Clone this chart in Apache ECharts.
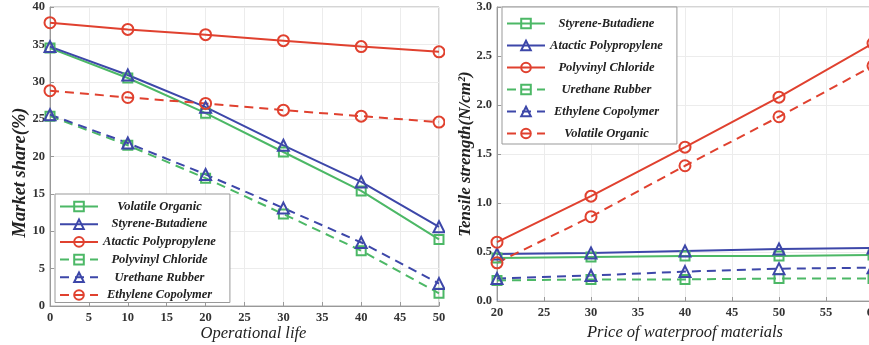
<!DOCTYPE html>
<html>
<head>
<meta charset="utf-8">
<script src="https://cdn.jsdelivr.net/npm/echarts@6/dist/echarts.min.js"></script>
<style>
  body { margin: 0; background: #fff; }
  #left { position: absolute; left: 0; top: 0; width: 445px; height: 345px; }
  #right { position: absolute; left: 445px; top: 0; width: 424px; height: 345px; }
</style>
</head>
<body>
<div id="left"></div>
<div id="right"></div>
<script>
// left panel: market share vs operational life
const lifeX = [0, 10, 20, 30, 40, 50]
const volatileOrganicL = [34.5, 30.5, 25.8, 20.6, 15.4, 8.9]
const styreneButadieneL = [34.7, 30.9, 26.6, 21.5, 16.6, 10.6]
const atacticPolyL = [37.9, 37.0, 36.3, 35.5, 34.7, 34.0]
const polyvinylL = [25.4, 21.5, 17.1, 12.3, 7.4, 1.7]
const urethaneL = [25.6, 21.8, 17.6, 13.1, 8.5, 3.0]
const ethyleneL = [28.8, 27.9, 27.1, 26.2, 25.4, 24.6]

// right panel: tensile strength vs price
const priceX = [20, 30, 40, 50, 60]
const styreneButadieneR = [0.44, 0.45, 0.46, 0.46, 0.47]
const atacticPolyR = [0.48, 0.49, 0.51, 0.53, 0.54]
const polyvinylR = [0.60, 1.07, 1.57, 2.08, 2.63]
const urethaneR = [0.21, 0.22, 0.22, 0.23, 0.23]
const ethyleneR = [0.23, 0.26, 0.30, 0.33, 0.34]
const volatileOrganicR = [0.39, 0.86, 1.38, 1.88, 2.40]

const GREEN = '#4cb866'
const BLUE = '#3d47a9'
const RED = '#e0412f'
const SERIF = '"Liberation Serif", "DejaVu Serif", serif'

function pairs(xs, ys){
    return xs.map((x, i) => [x, ys[i]])
}

function makeSeries(name, xs, ys, color, symbol, dashed){
    return {
        name: name,
        type: 'line',
        data: pairs(xs, ys),
        symbol: symbol,
        symbolSize: symbol === 'rect' ? 9 : 11,
        lineStyle: { color: color, width: 2, type: dashed ? [9, 6] : 'solid' },
        itemStyle: { color: 'rgba(255,255,255,0)', borderColor: color, borderWidth: 2 },
        emphasis: { disabled: true },
        animation: false
    }
}

function legendOpt(names, left, top, gap, pad){
    return {
        orient: 'vertical',
        left: left,
        top: top,
        data: names,
        itemWidth: 38,
        itemHeight: 12,
        itemGap: gap,
        padding: pad,
        backgroundColor: '#fff',
        borderColor: '#999',
        borderWidth: 1,
        borderRadius: 0,
        formatter: n => '{c|' + n + '}',
        textStyle: {
            rich: {
                c: {
                    width: 113,
                    align: 'center',
                    fontFamily: SERIF,
                    fontWeight: 'bold',
                    fontStyle: 'italic',
                    fontSize: 12.5,
                    color: '#222'
                }
            }
        }
    }
}

function axisBase(){
    return {
        nameMoveOverlap: false,
        axisLine: { show: true, lineStyle: { color: '#999', width: 1 } },
        axisTick: { show: true, inside: true, length: 4, lineStyle: { color: '#999' } },
        splitLine: { show: true, lineStyle: { color: '#ececec', width: 1 } },
        axisLabel: { fontFamily: SERIF, fontWeight: 'bold', fontSize: 12.5, color: '#333', margin: 5 },
        nameTextStyle: { fontFamily: SERIF, fontStyle: 'italic', fontSize: 16.5, color: '#222' }
    }
}

let leftChart = echarts.init(document.getElementById('left'))
let leftOption = {
    animation: false,
    grid: { left: 50, right: 6, top: 7, bottom: 39, outerBoundsMode: 'none',
            show: true, borderColor: '#aaa', borderWidth: 1 },
    legend: legendOpt(['Volatile Organic', 'Styrene-Butadiene', 'Atactic Polypropylene',
                       'Polyvinyl Chloride', 'Urethane Rubber', 'Ethylene Copolymer'],
                      55, 194, 4.7, [6, 14, 1, 4]),
    xAxis: Object.assign(axisBase(), {
        type: 'value', min: 0, max: 50, interval: 5,
        name: 'Operational life', nameLocation: 'middle', nameGap: 19
    }),
    yAxis: Object.assign(axisBase(), {
        type: 'value', min: 0, max: 40, interval: 5,
        name: 'Market share(%)', nameLocation: 'middle', nameGap: 20
    }),
    series: [
        makeSeries('Volatile Organic', lifeX, volatileOrganicL, GREEN, 'rect', false),
        makeSeries('Styrene-Butadiene', lifeX, styreneButadieneL, BLUE, 'triangle', false),
        makeSeries('Atactic Polypropylene', lifeX, atacticPolyL, RED, 'circle', false),
        makeSeries('Polyvinyl Chloride', lifeX, polyvinylL, GREEN, 'rect', true),
        makeSeries('Urethane Rubber', lifeX, urethaneL, BLUE, 'triangle', true),
        makeSeries('Ethylene Copolymer', lifeX, ethyleneL, RED, 'circle', true)
    ]
}
leftOption.xAxis.nameTextStyle.padding = [0, 0, 0, 18]
leftOption.yAxis.nameTextStyle = { fontFamily: SERIF, fontStyle: 'italic', fontWeight: 'bold',
                                   fontSize: 18.5, color: '#222', padding: [0, 32, 0, 0] }
leftChart.setOption(leftOption)

let rightChart = echarts.init(document.getElementById('right'))
let rightOption = {
    animation: false,
    grid: { left: 52, right: -4, top: 7, bottom: 44, outerBoundsMode: 'none',
            show: true, borderColor: '#aaa', borderWidth: 1 },
    legend: legendOpt(['Styrene-Butadiene', 'Atactic Polypropylene', 'Polyvinyl Chloride',
                       'Urethane Rubber', 'Ethylene Copolymer', 'Volatile Organic'],
                      57, 7, 9, [10, 14, 4, 4]),
    xAxis: Object.assign(axisBase(), {
        type: 'value', min: 20, max: 60, interval: 5,
        name: 'Price of waterproof materials', nameLocation: 'middle', nameGap: 23
    }),
    yAxis: Object.assign(axisBase(), {
        type: 'value', min: 0, max: 3, interval: 0.5,
        name: 'Tensile strength(N/cm²)', nameLocation: 'middle', nameGap: 23
    }),
    series: [
        makeSeries('Styrene-Butadiene', priceX, styreneButadieneR, GREEN, 'rect', false),
        makeSeries('Atactic Polypropylene', priceX, atacticPolyR, BLUE, 'triangle', false),
        makeSeries('Polyvinyl Chloride', priceX, polyvinylR, RED, 'circle', false),
        makeSeries('Urethane Rubber', priceX, urethaneR, GREEN, 'rect', true),
        makeSeries('Ethylene Copolymer', priceX, ethyleneR, BLUE, 'triangle', true),
        makeSeries('Volatile Organic', priceX, volatileOrganicR, RED, 'circle', true)
    ]
}
rightOption.yAxis.axisLabel.formatter = v => v.toFixed(1)
rightOption.yAxis.nameTextStyle = { fontFamily: SERIF, fontStyle: 'italic', fontWeight: 'bold',
                                    fontSize: 17, color: '#222' }
rightChart.setOption(rightOption)
</script>
</body>
</html>
